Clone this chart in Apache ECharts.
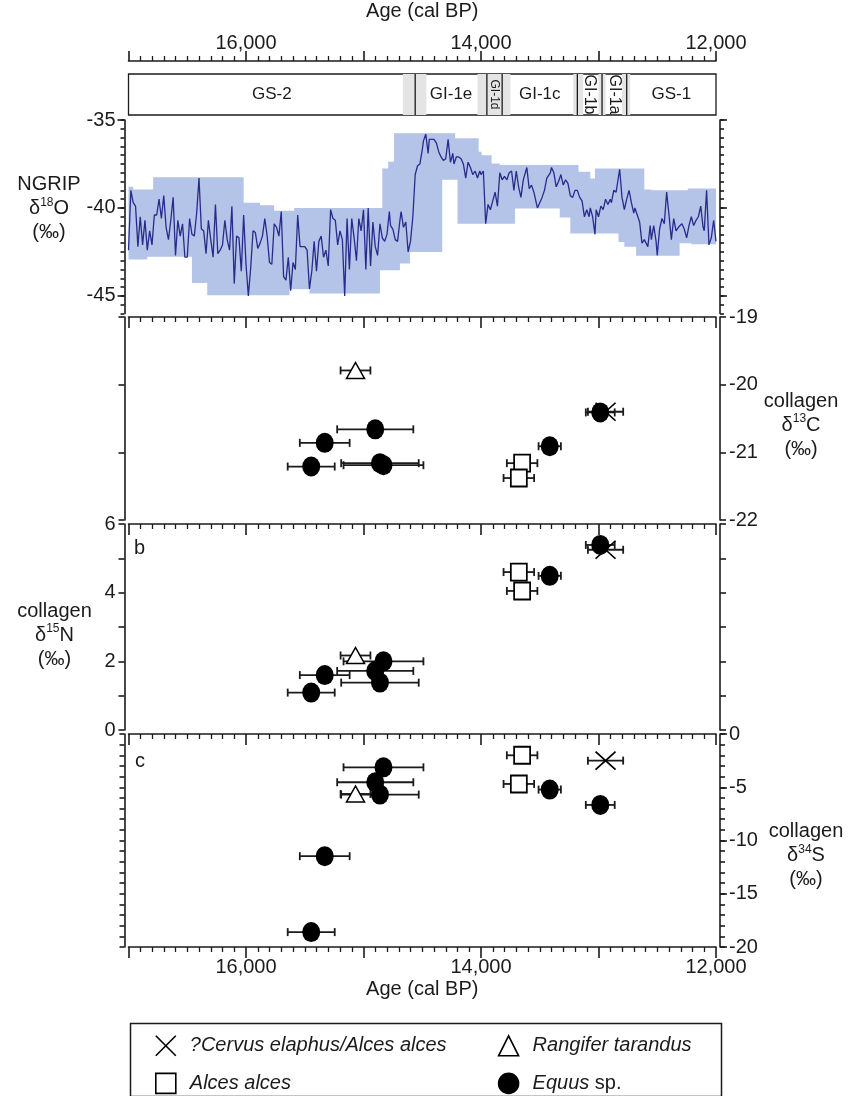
<!DOCTYPE html>
<html>
<head>
<meta charset="utf-8">
<title>NGRIP and collagen isotopes</title>
<script src="https://cdn.jsdelivr.net/npm/echarts@6/dist/echarts.min.js"></script>
<style>
  html, body { margin: 0; padding: 0; background: #fff; }
  #chart { width: 862px; height: 1096px; }
</style>
</head>
<body>
<div id="chart"></div>
<script>
// age axis (cal BP), drawn old -> young
const ageMin = 12000;
const ageMax = 17000;
const ageLabels = [16000, 14000, 12000];

// Greenland event stratigraphy
const zoneNames = ['GS-2', 'GI-1e', 'GI-1d', 'GI-1c', 'GI-1b', 'GI-1a', 'GS-1'];
const zoneStart = [17000, 14560, 13950, 13820, 13180, 12970, 12760];
const zoneEnd = [14560, 13950, 13820, 13180, 12970, 12760, 12000];
const shadeStart = [14665, 14030, 13215, 13000, 12800];
const shadeEnd = [14465, 13750, 13130, 12940, 12730];

// NGRIP d18O (20-yr means)
const ngripAge = [17000, 16980, 16960, 16940, 16920, 16900, 16880, 16860, 16840, 16820, 16800, 16780, 16760, 16740, 16720, 16700, 16680, 16660, 16640, 16620, 16600, 16580, 16560, 16540, 16520, 16500, 16480, 16460, 16440, 16420, 16400, 16380, 16360, 16340, 16320, 16300, 16280, 16260, 16240, 16220, 16200, 16180, 16160, 16140, 16120, 16100, 16080, 16060, 16040, 16020, 16000, 15980, 15960, 15940, 15920, 15900, 15880, 15860, 15840, 15820, 15800, 15780, 15760, 15740, 15720, 15700, 15680, 15660, 15640, 15620, 15600, 15580, 15560, 15540, 15520, 15500, 15480, 15460, 15440, 15420, 15400, 15380, 15360, 15340, 15320, 15300, 15280, 15260, 15240, 15220, 15200, 15180, 15160, 15140, 15120, 15100, 15080, 15060, 15040, 15020, 15000, 14980, 14960, 14940, 14920, 14900, 14880, 14860, 14840, 14820, 14800, 14780, 14770, 14750, 14730, 14710, 14690, 14680, 14660, 14640, 14620, 14600, 14580, 14560, 14540, 14520, 14500, 14490, 14470, 14450, 14440, 14420, 14400, 14380, 14360, 14340, 14320, 14300, 14280, 14260, 14240, 14230, 14210, 14190, 14170, 14150, 14130, 14110, 14090, 14070, 14050, 14030, 14010, 14000, 13980, 13960, 13940, 13920, 13900, 13880, 13860, 13840, 13820, 13800, 13780, 13760, 13740, 13720, 13700, 13680, 13660, 13640, 13610, 13590, 13570, 13550, 13520, 13500, 13480, 13460, 13440, 13410, 13400, 13380, 13360, 13340, 13320, 13300, 13280, 13260, 13240, 13220, 13200, 13180, 13160, 13140, 13120, 13100, 13080, 13070, 13050, 13030, 13020, 13000, 12980, 12960, 12940, 12920, 12900, 12890, 12870, 12850, 12820, 12800, 12780, 12760, 12740, 12720, 12700, 12690, 12670, 12650, 12630, 12610, 12580, 12560, 12550, 12530, 12510, 12500, 12480, 12460, 12440, 12420, 12400, 12380, 12360, 12340, 12320, 12310, 12290, 12270, 12250, 12230, 12210, 12190, 12170, 12150, 12130, 12110, 12100, 12080, 12060, 12040, 12020, 12000];
const ngripD18O = [-42.4, -39.0, -39.7, -39.9, -42.2, -40.5, -42.1, -40.7, -42.4, -41.3, -42.1, -40.4, -40.4, -39.5, -40.6, -39.3, -41.1, -41.8, -40.7, -39.4, -42.7, -40.7, -41.6, -40.9, -42.8, -42.8, -40.6, -41.5, -41.6, -40.3, -38.3, -41.2, -41.3, -42.6, -40.7, -41.8, -42.8, -39.8, -42.6, -42.4, -42.1, -40.7, -41.8, -42.4, -39.9, -44.3, -41.6, -41.7, -43.6, -40.4, -43.2, -45.0, -43.4, -41.3, -41.4, -42.3, -42.0, -41.6, -40.6, -41.6, -43.1, -43.2, -40.9, -41.1, -41.6, -40.2, -43.9, -44.1, -42.8, -44.7, -43.1, -43.5, -40.4, -42.2, -42.2, -42.2, -42.4, -44.6, -43.6, -41.9, -43.6, -41.9, -41.6, -42.8, -42.4, -43.3, -40.1, -40.6, -40.7, -42.1, -41.3, -41.8, -45.0, -40.6, -43.5, -40.6, -41.7, -43.0, -40.6, -41.3, -40.1, -43.5, -40.0, -43.3, -40.8, -42.2, -42.7, -40.9, -41.7, -41.9, -41.5, -40.2, -41.0, -41.2, -41.8, -41.9, -40.7, -40.2, -41.1, -40.8, -42.5, -41.9, -40.5, -38.1, -37.6, -37.5, -36.7, -36.2, -35.8, -36.9, -36.1, -36.1, -36.1, -36.3, -36.8, -37.1, -37.3, -37.2, -36.1, -37.4, -36.9, -37.5, -37.1, -37.1, -37.2, -37.5, -38.3, -37.4, -37.7, -38.1, -37.9, -38.3, -37.9, -38.1, -37.9, -40.9, -39.8, -40.1, -39.6, -39.1, -39.9, -38.0, -38.4, -38.2, -38.4, -38.0, -37.9, -39.0, -37.9, -38.8, -39.4, -38.4, -37.7, -38.9, -38.7, -39.1, -40.0, -39.7, -39.4, -39.0, -38.3, -38.0, -37.7, -38.0, -38.8, -38.5, -38.1, -38.7, -38.4, -38.6, -39.3, -39.4, -39.0, -39.0, -39.4, -39.6, -40.5, -40.1, -40.5, -40.0, -40.5, -41.5, -40.1, -40.5, -39.9, -40.1, -39.5, -39.8, -39.5, -39.7, -39.0, -39.1, -37.8, -39.4, -40.1, -39.5, -39.0, -39.7, -40.3, -40.0, -40.4, -40.8, -42.0, -41.8, -42.2, -41.0, -41.8, -41.0, -41.9, -42.7, -41.2, -40.6, -40.9, -39.1, -40.4, -41.8, -40.6, -41.3, -41.1, -41.2, -40.9, -41.2, -41.7, -41.0, -40.5, -41.0, -40.7, -40.5, -39.9, -41.1, -41.3, -39.0, -42.1, -41.7, -40.7, -41.9];

// shaded NGRIP envelope, as steps: edges (age) and level between them
const bandTopAge = [17000, 16960, 16790, 16020, 15880, 15760, 15590, 14840, 14790, 14740, 14220, 14020, 13995, 13910, 13840, 13170, 13070, 13030, 12610, 12550, 12240, 12000];
const bandTopVal = [-38.8, -38.95, -38.26, -39.7, -39.84, -40.16, -40.0, -37.75, -37.37, -35.76, -36.04, -36.8, -37.0, -37.47, -37.56, -37.94, -38.32, -37.75, -38.95, -39.0, -38.89];
const bandLowAge = [17000, 16840, 16460, 16330, 15630, 15460, 14860, 14690, 14605, 14330, 14200, 13710, 13330, 13240, 12830, 12780, 12680, 12310, 12210, 12000];
const bandLowVal = [-42.93, -42.78, -44.26, -44.96, -44.62, -44.87, -43.54, -43.16, -42.5, -38.4, -40.9, -40.03, -40.54, -41.45, -41.93, -42.2, -42.72, -42.0, -42.06];

// collagen isotopes per specimen
const cervusAge = [12940];
const cervusErr = [150];
const cervusD13C = [-20.40];
const cervusD15N = [5.25];
const cervusD34S = [-2.5];

const rangiferAge = [15068];
const rangiferErr = [127];
const rangiferD13C = [-19.79];
const rangiferD15N = [2.17];
const rangiferD34S = [-5.63];

const alcesAge = [13650, 13678];
const alcesErr = [130, 130];
const alcesD13C = [-21.16, -21.38];
const alcesD15N = [4.05, 4.60];
const alcesD34S = [-2.0, -4.69];

const equusAge = [15445, 15330, 14900, 14860, 14830, 13415, 12985];
const equusErr = [200, 212, 324, 330, 340, 95, 123];
const equusD13C = [-21.21, -20.86, -20.66, -21.16, -21.19, -20.91, -20.41];
const equusD15N = [1.09, 1.60, 1.72, 1.38, 2.00, 4.49, 5.39];
const equusD34S = [-18.6, -11.47, -4.53, -5.69, -3.13, -5.22, -6.66];

// axis ticks
const ngripMinorTicks = [-46, -45.5, -45, -44.5, -44, -43.5, -43, -42.5, -42, -41.5, -41, -40.5, -40, -39.5, -39, -38.5, -38, -37.5, -37, -36.5, -36, -35.5, -35];
const ngripMajorTicks = [-45, -40, -35];
const c13Ticks = [-22, -21, -20, -19];
const n15Ticks = [0, 1, 2, 3, 4, 5, 6];
const n15Labels = [0, 2, 4, 6];
const s34MinorTicks = [-20, -19, -18, -17, -16, -15, -14, -13, -12, -11, -10, -9, -8, -7, -6, -5, -4, -3, -2, -1, 0];
const s34Labels = [-20, -15, -10, -5, 0];

const FONT = '"Liberation Sans", Arial, sans-serif';
const FS = 20;
const INK = '#1b1b1b';
const LINE = '#2a2a8c';
const BAND = '#b3c4e8';
const SHADE = '#e4e4e4';

const chart = echarts.init(document.getElementById('chart'));

const gridLeft = 128.5;
const gridWidth = 587.5;
const grids = [
  { left: gridLeft, width: gridWidth, top: 70, height: 45, show: true, borderColor: INK, borderWidth: 1.3, backgroundColor: 'transparent' },
  { left: gridLeft, width: gridWidth, top: 120, height: 193.5 },
  { left: gridLeft, width: gridWidth, top: 317, height: 203 },
  { left: gridLeft, width: gridWidth, top: 524, height: 206 },
  { left: gridLeft, width: gridWidth, top: 734, height: 213 }
];

const axStyle = { color: INK, width: 1.6 };
const fmtAge = (v) => ageLabels.includes(v) ? v.toLocaleString('en-US') : '';

function ageAxis(grid, pos, extra) {
  return Object.assign({
    type: 'value', gridIndex: grid, position: pos,
    min: ageMin, max: ageMax, inverse: true, interval: 1000,
    axisLine: { show: true, onZero: false, lineStyle: axStyle },
    axisTick: { show: true, length: 11, lineStyle: axStyle },
    minorTick: { show: true, splitNumber: 10, length: 5, lineStyle: { color: INK, width: 1.3 } },
    axisLabel: { show: false },
    splitLine: { show: false }
  }, extra || {});
}

function valAxis(grid, pos, min, max, ticks, tickLen, labels, extra) {
  return Object.assign({
    type: 'value', gridIndex: grid, position: pos, offset: 4, min: min, max: max,
    axisLine: { show: true, onZero: false, lineStyle: axStyle },
    axisTick: { show: true, length: tickLen, customValues: ticks, lineStyle: axStyle },
    axisLabel: labels
      ? { show: true, customValues: labels, color: INK, fontSize: FS, fontFamily: FONT, margin: 9 }
      : { show: false },
    splitLine: { show: false }
  }, extra || {});
}

function axisName(first, iso, gap, pad) {
  return {
    name: '{t|' + first + '}\n{t|δ}{s|' + iso[0] + '}{t|' + iso[1] + '}\n{t|(‰)}',
    nameLocation: 'middle', nameRotate: 0, nameGap: gap,
    nameTextStyle: {
      align: 'center', padding: pad,
      rich: {
        t: { fontSize: FS, fontFamily: FONT, color: INK, lineHeight: 24 },
        s: { fontSize: 12, fontFamily: FONT, color: INK, lineHeight: 15, verticalAlign: 'top' }
      }
    }
  };
}

const xAxes = [
  ageAxis(0, 'top', {
    offset: 13,
    axisTick: { show: true, length: 10, lineStyle: axStyle },
    axisLabel: { show: true, formatter: fmtAge, color: INK, fontSize: FS, fontFamily: FONT, margin: 8 },
    name: 'Age (cal BP)', nameLocation: 'middle', nameGap: 40,
    nameTextStyle: { fontSize: FS, fontFamily: FONT, color: INK }
  }),
  ageAxis(1, 'bottom', { show: false }),
  ageAxis(2, 'top', { axisTick: { show: true, inside: true, length: 11, lineStyle: axStyle } }),
  ageAxis(3, 'top', { axisTick: { show: true, inside: true, length: 11, lineStyle: axStyle } }),
  ageAxis(4, 'top', { axisTick: { show: true, inside: true, length: 11, lineStyle: axStyle } }),
  ageAxis(4, 'bottom', {
    axisLabel: { show: true, formatter: fmtAge, color: INK, fontSize: FS, fontFamily: FONT, margin: 10 },
    name: 'Age (cal BP)', nameLocation: 'middle', nameGap: 32,
    nameTextStyle: { fontSize: FS, fontFamily: FONT, color: INK }
  })
];

const yAxes = [
  { type: 'value', gridIndex: 0, min: 0, max: 1, show: false },
  valAxis(1, 'left', -46, -35, ngripMinorTicks, 4, ngripMajorTicks, axisName('NGRIP', ['18', 'O'], 72, [0, 0, 16, 0])),
  valAxis(1, 'left', -46, -35, ngripMajorTicks, 7, null, { axisLine: { show: false } }),
  valAxis(1, 'right', -46, -35, ngripMinorTicks, 4, null),
  valAxis(1, 'right', -46, -35, ngripMajorTicks, 7, null, { axisLine: { show: false } }),
  valAxis(2, 'left', -22, -19, c13Ticks, 6, null),
  valAxis(2, 'right', -22, -19, c13Ticks, 6, c13Ticks, axisName('collagen', ['13', 'C'], 80, [13, 0, 0, 0])),
  valAxis(3, 'left', 0, 6, n15Ticks, 6, n15Labels, axisName('collagen', ['15', 'N'], 70, [16, 0, 0, 0])),
  valAxis(3, 'right', 0, 6, n15Ticks, 6, null),
  valAxis(4, 'left', -20, 0, s34MinorTicks, 5, null),
  valAxis(4, 'right', -20, 0, s34MinorTicks, 5, s34Labels, axisName('collagen', ['34', 'S'], 86, [30, 0, 0, 0])),
  valAxis(4, 'right', -20, 0, s34Labels, 7, null, { axisLine: { show: false } })
];

// step edges -> polygon
function stepPoints(edges, vals) {
  const pts = [];
  vals.forEach((v, i) => { pts.push([edges[i], v], [edges[i + 1], v]); });
  return pts;
}
const bandPolygon = stepPoints(bandTopAge, bandTopVal).concat(stepPoints(bandLowAge, bandLowVal).reverse());

const species = [
  { name: '?Cervus elaphus/Alces alces', age: cervusAge, err: cervusErr, iso: [cervusD13C, cervusD15N, cervusD34S],
    symbol: 'path://M0,0L10,10M10,0L0,10', size: [20, 18], color: 'transparent', border: 1.6, z: 3 },
  { name: 'Rangifer tarandus', age: rangiferAge, err: rangiferErr, iso: [rangiferD13C, rangiferD15N, rangiferD34S],
    symbol: 'triangle', size: [18, 16], color: '#fff', border: 1.5, z: 4 },
  { name: 'Alces alces', age: alcesAge, err: alcesErr, iso: [alcesD13C, alcesD15N, alcesD34S],
    symbol: 'rect', size: [16, 17], color: '#fff', border: 1.8, z: 4 },
  { name: 'Equus sp.', age: equusAge, err: equusErr, iso: [equusD13C, equusD15N, equusD34S],
    symbol: 'circle', size: [18, 20], color: '#000', border: 0, z: 5 }
];

// panel -> [xAxisIndex, yAxisIndex]
const panels = [[2, 6], [3, 7], [4, 10]];

const errorBar = (params, api) => {
  const a = api.value(0), v = api.value(1), e = api.value(2);
  const p1 = api.coord([a - e, v]);
  const p2 = api.coord([a + e, v]);
  const st = { stroke: INK, lineWidth: 1.8 };
  return {
    type: 'group',
    children: [
      { type: 'line', shape: { x1: p1[0], y1: p1[1], x2: p2[0], y2: p2[1] }, style: st },
      { type: 'line', shape: { x1: p1[0], y1: p1[1] - 4, x2: p1[0], y2: p1[1] + 4 }, style: st },
      { type: 'line', shape: { x1: p2[0], y1: p2[1] - 4, x2: p2[0], y2: p2[1] + 4 }, style: st }
    ]
  };
};

const series = [];

// event stratigraphy box
series.push({
  type: 'custom', name: 'shade', xAxisIndex: 0, yAxisIndex: 0, z: 1, silent: true,
  data: shadeStart.map((s, i) => [s, shadeEnd[i]]),
  renderItem: (params, api) => {
    const a = api.coord([api.value(0), 1]);
    const b = api.coord([api.value(1), 0]);
    return { type: 'rect', shape: { x: Math.min(a[0], b[0]), y: a[1], width: Math.abs(b[0] - a[0]), height: b[1] - a[1] }, style: { fill: SHADE } };
  }
});
series.push({
  type: 'custom', name: 'zones', xAxisIndex: 0, yAxisIndex: 0, z: 2, silent: true,
  data: zoneNames.map((n, i) => [zoneStart[i], zoneEnd[i], i]),
  renderItem: (params, api) => {
    const i = api.value(2);
    const a = api.coord([api.value(0), 1]);
    const b = api.coord([api.value(1), 0]);
    const w = Math.abs(b[0] - a[0]);
    const narrow = w < 30;
    const children = [{
      type: 'text', x: (a[0] + b[0]) / 2, y: (a[1] + b[1]) / 2, rotation: narrow ? -Math.PI / 2 : 0,
      style: { text: zoneNames[i], fill: INK, fontSize: w < 18 ? 12 : (narrow ? 16 : 17), fontFamily: FONT, align: 'center', verticalAlign: 'middle' }
    }];
    if (api.value(0) < ageMax) {
      children.push({ type: 'line', shape: { x1: a[0], y1: a[1], x2: a[0], y2: b[1] }, style: { stroke: INK, lineWidth: 1.3 } });
    }
    return { type: 'group', children: children };
  }
});

// NGRIP
series.push({
  type: 'custom', name: 'envelope', xAxisIndex: 1, yAxisIndex: 1, z: 1, silent: true, clip: true,
  data: [[15000, -40]],
  renderItem: (params, api) => ({
    type: 'polygon',
    shape: { points: bandPolygon.map((p) => api.coord(p)) },
    style: { fill: BAND }
  })
});
series.push({
  type: 'line', name: 'NGRIP', xAxisIndex: 1, yAxisIndex: 1, z: 2, silent: true,
  showSymbol: false, symbol: 'none',
  lineStyle: { color: LINE, width: 1.3 },
  data: ngripAge.map((a, i) => [a, ngripD18O[i]])
});

// isotope panels
panels.forEach((ax, k) => {
  const errData = [];
  species.forEach((sp) => sp.age.forEach((a, i) => errData.push([a, sp.iso[k][i], sp.err[i]])));
  series.push({
    type: 'custom', name: 'err' + k, xAxisIndex: ax[0], yAxisIndex: ax[1], z: 2, silent: true,
    data: errData, renderItem: errorBar
  });
  species.forEach((sp) => {
    series.push({
      type: 'scatter', name: sp.name, xAxisIndex: ax[0], yAxisIndex: ax[1], z: sp.z,
      symbol: sp.symbol, symbolSize: sp.size,
      itemStyle: { color: sp.color, borderColor: '#000', borderWidth: sp.border, opacity: 1 },
      data: sp.age.map((a, i) => [a, sp.iso[k][i]])
    });
  });
});

const option = {
  animation: false,
  backgroundColor: '#fff',
  textStyle: { fontFamily: FONT, color: INK },
  grid: grids,
  xAxis: xAxes,
  yAxis: yAxes,
  legend: {
    data: species.map((s) => s.name),
    left: 150, top: 1030, width: 700,
    itemWidth: 20, itemHeight: 20, itemGap: 16,
    selectedMode: false,
    itemStyle: { borderWidth: 1.6 },
    formatter: (name) => name === 'Equus sp.' ? '{i|Equus} sp.' : '{i|' + name + '}',
    textStyle: {
      fontSize: FS, fontFamily: FONT, color: INK, width: 292, lineHeight: 20, padding: [0, 0, 0, 9],
      rich: { i: { fontStyle: 'italic', fontSize: FS, fontFamily: FONT, color: INK } }
    }
  },
  graphic: [
    { type: 'rect', left: 128, top: 1021, shape: { width: 591, height: 73 }, style: { fill: 'none', stroke: INK, lineWidth: 1.5 } },
    { type: 'text', left: 134, top: 538, style: { text: 'b', fontSize: FS, fontFamily: FONT, fill: INK } },
    { type: 'text', left: 135, top: 751, style: { text: 'c', fontSize: FS, fontFamily: FONT, fill: INK } }
  ],
  series: series
};

chart.setOption(option);
</script>
</body>
</html>
